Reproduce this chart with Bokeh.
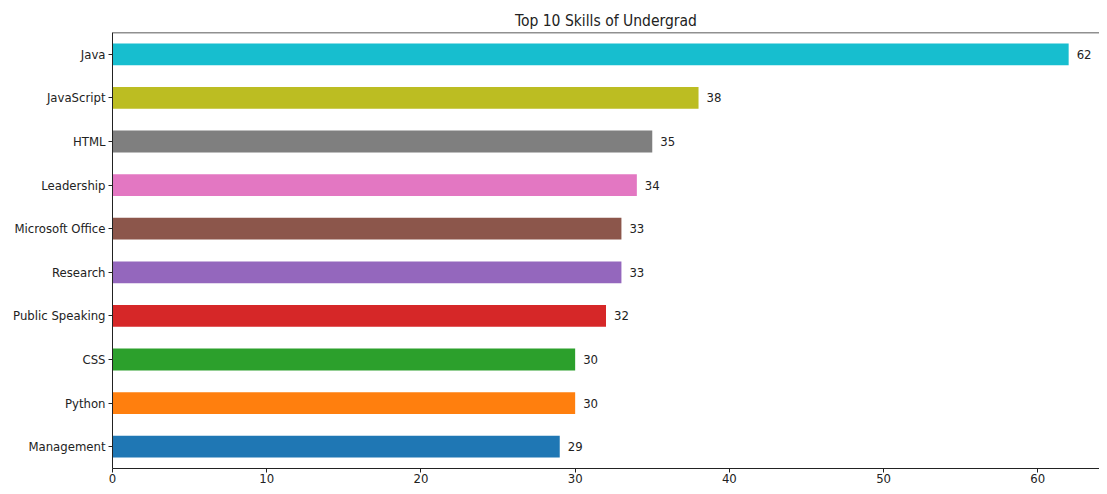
from bokeh.plotting import figure
from bokeh.models import ColumnDataSource, Range1d, FixedTicker, FactorRange, Span
from bokeh.embed import file_html
from bokeh.resources import INLINE
from bokeh.core.properties import value

# data (bottom to top)
skills = ["Management", "Python", "CSS", "Public Speaking", "Research",
          "Microsoft Office", "Leadership", "HTML", "JavaScript", "Java"]
counts = [29, 30, 30, 32, 33, 33, 34, 35, 38, 62]
colors = ["#1f77b4", "#ff7f0e", "#2ca02c", "#d62728", "#9467bd",
          "#8c564b", "#e377c2", "#7f7f7f", "#bcbd22", "#17becf"]
x_ticks = [0, 10, 20, 30, 40, 50, 60]
title_text = "Top 10 Skills of Undergrad"

FONT = "DejaVu Sans Condensed"

src = ColumnDataSource(dict(skill=skills, count=counts, color=colors,
                            label=[str(c) for c in counts]))

p = figure(width=1099, height=486, output_backend="svg", toolbar_location=None,
           y_range=FactorRange(factors=skills, range_padding=0),
           x_range=Range1d(0, 64.0),
           min_border_left=112, min_border_right=0, min_border_top=32,
           min_border_bottom=18)

p.hbar(y="skill", right="count", height=0.5, left=0, color="color",
       line_color=None, source=src)
p.text(x="count", y="skill", text="label", source=src, x_offset=8,
       text_baseline="middle", text_align="left", text_font=value(FONT),
       text_font_size="13px", text_color="#222222")

p.title.text = title_text
p.title.align = "center"
p.title.text_font = FONT
p.title.text_font_style = "normal"
p.title.text_font_size = "15.5px"
p.title.text_color = "#222222"
p.title.standoff = 6

p.xgrid.visible = False
p.ygrid.visible = False
# top spine only (right spine lies outside the visible area in the original)
p.outline_line_color = None
p.add_layout(Span(location=len(skills), dimension="width",
                  line_color="#222222", line_width=1.5))

p.xaxis.ticker = FixedTicker(ticks=x_ticks)
p.xaxis.minor_tick_line_color = None
for ax in (p.xaxis, p.yaxis):
    ax.axis_line_color = "#222222"
    ax.major_tick_line_color = "#222222"
    ax.major_tick_in = 0
    ax.major_tick_out = 4
    ax.major_label_text_font = FONT
    ax.major_label_text_font_size = "13px"
    ax.major_label_text_color = "#222222"
p.xaxis.major_label_standoff = 1
p.yaxis.major_label_standoff = 3

open("out.html", "w").write(file_html(p, INLINE))
